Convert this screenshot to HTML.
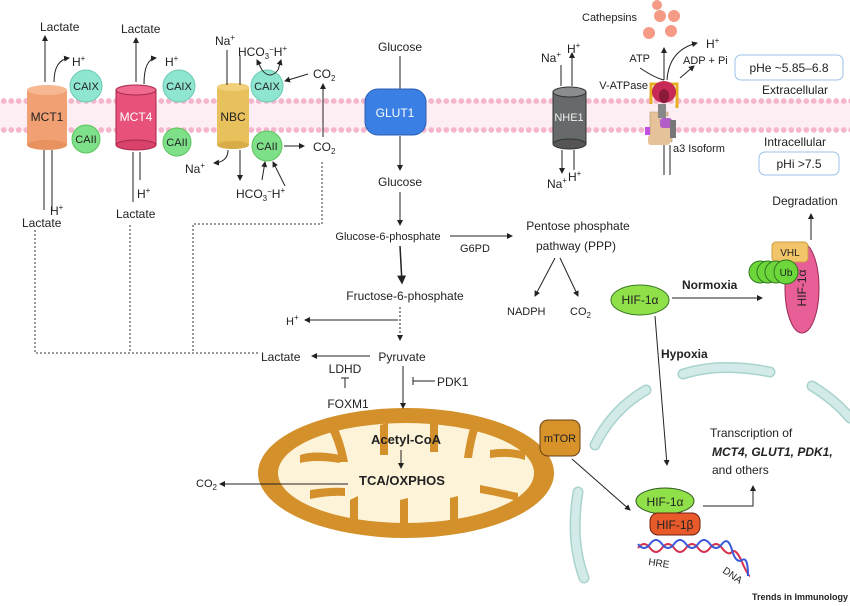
<!DOCTYPE html>
<html><head><meta charset="utf-8"><style>
html,body{margin:0;padding:0;background:#fff}
svg{display:block}
text{font-family:"Liberation Sans",sans-serif;fill:#222}
</style></head><body>
<svg width="850" height="606" viewBox="0 0 850 606" xmlns="http://www.w3.org/2000/svg">
<defs>
<pattern id="dots" x="0" y="0" width="7.5" height="29" patternUnits="userSpaceOnUse" patternTransform="translate(0,98)">
<circle cx="3.75" cy="3" r="2.9" fill="#f5b6cd"/>
</pattern>
<marker id="a" markerWidth="6" markerHeight="6" refX="5" refY="3" orient="auto"><path d="M0,0 L6,3 L0,6 z" fill="#222"/></marker>
</defs>

<!-- membrane -->
<rect x="0" y="101" width="850" height="29" fill="#fdeef3"/>
<rect x="0" y="98" width="850" height="6" fill="url(#dots)"/>
<rect x="0" y="127" width="850" height="6" fill="url(#dots)"/>

<!-- nucleus arcs -->
<g fill="none" stroke="#a9d3cd" stroke-width="11" stroke-linecap="round">
<path d="M683,374 Q720,362 770,372"/>
<path d="M812,386 Q835,400 850,418"/>
<path d="M646,390 Q612,410 595,445"/>
<path d="M578,492 Q570,540 584,578"/>
</g>
<g fill="none" stroke="#d3ebe8" stroke-width="8" stroke-linecap="round">
<path d="M683,374 Q720,362 770,372"/>
<path d="M812,386 Q835,400 850,418"/>
<path d="M646,390 Q612,410 595,445"/>
<path d="M578,492 Q570,540 584,578"/>
</g>

<!-- mitochondrion -->
<ellipse cx="406" cy="473" rx="148" ry="65" fill="#d4902a"/>
<ellipse cx="406" cy="473" rx="128" ry="50" fill="#fdf3d8"/>
<g fill="#d4902a">
<path d="M300,455 q15,-5 40,0 v8 q-25,-4 -40,0z"/>
<path d="M330,432 q5,10 10,30 h8 q-4,-20 -10,-33z"/>
<path d="M380,425 v30 h8 v-32z"/>
<path d="M430,424 v28 h8 v-30z"/>
<path d="M470,428 q-4,15 -6,30 h8 q2,-15 6,-28z"/>
<path d="M490,450 q20,-3 35,2 v8 q-15,-5 -35,-2z"/>
<path d="M310,490 q20,-3 35,-2 v8 q-15,-1 -35,3z"/>
<path d="M350,500 v20 h8 v-24z"/>
<path d="M400,500 v24 h8 v-26z"/>
<path d="M450,498 v24 h8 v-26z"/>
<path d="M480,485 q15,3 38,8 v8 q-20,-5 -38,-8z"/>
</g>
<text x="406" y="444" font-size="13" font-weight="bold" text-anchor="middle">Acetyl-CoA</text>
<text x="402" y="485" font-size="13" font-weight="bold" text-anchor="middle">TCA/OXPHOS</text>
<line x1="401" y1="450" x2="401" y2="468" stroke="#222" marker-end="url(#a)"/>
<line x1="348" y1="484" x2="220" y2="484" stroke="#222" marker-end="url(#a)"/>
<text x="196" y="487" font-size="11">CO<tspan font-size="8" dy="3">2</tspan></text>

<!-- MCT1 -->
<rect x="27" y="90" width="40" height="55" fill="#f0a072"/>
<ellipse cx="47" cy="145" rx="20" ry="5" fill="#e8935f"/>
<ellipse cx="47" cy="90" rx="20" ry="5" fill="#f7b891"/>
<text x="47" y="121" font-size="12" text-anchor="middle">MCT1</text>
<!-- MCT4 -->
<rect x="116" y="90" width="40" height="55" fill="#e8517a" stroke="#a82848"/>
<ellipse cx="136" cy="145" rx="20" ry="5" fill="#d9426b" stroke="#a82848"/>
<ellipse cx="136" cy="90" rx="20" ry="5" fill="#f06a90" stroke="#a82848"/>
<text x="136" y="121" font-size="12" text-anchor="middle" style="fill:#fff">MCT4</text>
<!-- NBC -->
<rect x="217" y="87" width="32" height="58" fill="#e8c05c"/>
<ellipse cx="233" cy="145" rx="16" ry="4" fill="#d8ad48"/>
<ellipse cx="233" cy="87" rx="16" ry="4" fill="#f2d07a"/>
<text x="233" y="121" font-size="12" text-anchor="middle">NBC</text>

<!-- CA circles -->
<g stroke="#6cc9b3">
<circle cx="86" cy="86" r="16" fill="#8ee6d1"/>
<circle cx="179" cy="86" r="16" fill="#8ee6d1"/>
<circle cx="267" cy="86" r="16" fill="#8ee6d1"/>
</g>
<g stroke="#5cc25c">
<circle cx="86" cy="139" r="14" fill="#7fe08a"/>
<circle cx="177" cy="142" r="14" fill="#7fe08a"/>
<circle cx="267" cy="146" r="15" fill="#7fe08a"/>
</g>
<g font-size="11" text-anchor="middle">
<text x="86" y="90">CAIX</text><text x="179" y="90">CAIX</text><text x="267" y="90">CAIX</text>
<text x="86" y="143">CAII</text><text x="177" y="146">CAII</text><text x="267" y="150">CAII</text>
</g>

<!-- transporter lines -->
<g stroke="#222" fill="none" stroke-width="1">
<line x1="45" y1="82" x2="45" y2="36" marker-end="url(#a)"/>
<path d="M54,82 q0,-22 15,-24" marker-end="url(#a)"/>
<line x1="44" y1="150" x2="44" y2="210"/>
<line x1="52" y1="150" x2="52" y2="210"/>
<line x1="136" y1="82" x2="136" y2="38" marker-end="url(#a)"/>
<path d="M144,84 q0,-25 12,-26" marker-end="url(#a)"/>
<line x1="133" y1="152" x2="133" y2="202"/>
<line x1="140" y1="152" x2="140" y2="180"/>
<line x1="227" y1="85" x2="227" y2="50"/>
<line x1="240" y1="85" x2="240" y2="55"/>
<path d="M228,150 q0,12 -14,13" marker-end="url(#a)"/>
<line x1="240" y1="150" x2="240" y2="180" marker-end="url(#a)"/>
<path d="M262,70 q8,10 16,0" />
<line x1="262" y1="70" x2="257" y2="60" marker-end="url(#a)"/>
<line x1="278" y1="70" x2="281" y2="60" marker-end="url(#a)"/>
<line x1="308" y1="74" x2="285" y2="81" marker-end="url(#a)"/>
<line x1="284" y1="146" x2="304" y2="146" marker-end="url(#a)"/>
<line x1="323" y1="137" x2="323" y2="84" marker-end="url(#a)"/>
<line x1="262" y1="180" x2="265" y2="162" marker-end="url(#a)"/>
<line x1="285" y1="186" x2="273" y2="162" marker-end="url(#a)"/>
</g>
<g font-size="12">
<text x="40" y="31">Lactate</text>
<text x="121" y="33">Lactate</text>
<text x="72" y="66">H<tspan font-size="8" dy="-5">+</tspan></text>
<text x="165" y="66">H<tspan font-size="8" dy="-5">+</tspan></text>
<text x="215" y="45">Na<tspan font-size="8" dy="-5">+</tspan></text>
<text x="238" y="56">HCO<tspan font-size="8" dy="3">3</tspan><tspan font-size="8" dy="-7">−</tspan><tspan dy="4">H</tspan><tspan font-size="8" dy="-5">+</tspan></text>
<text x="313" y="78">CO<tspan font-size="8" dy="3">2</tspan></text>
<text x="313" y="151">CO<tspan font-size="8" dy="3">2</tspan></text>
<text x="185" y="173">Na<tspan font-size="8" dy="-5">+</tspan></text>
<text x="236" y="198">HCO<tspan font-size="8" dy="3">3</tspan><tspan font-size="8" dy="-7">−</tspan><tspan dy="4">H</tspan><tspan font-size="8" dy="-5">+</tspan></text>
<text x="137" y="198">H<tspan font-size="8" dy="-5">+</tspan></text>
<text x="116" y="218">Lactate</text>
<text x="50" y="215">H<tspan font-size="8" dy="-5">+</tspan></text>
<text x="22" y="227">Lactate</text>
</g>

<!-- dotted lines -->
<g stroke="#333" stroke-dasharray="2,2" fill="none">
<path d="M35,230 V353 H258"/>
<path d="M130,225 V353"/>
<path d="M322,162 V224 H193 V353"/>
</g>

<!-- GLUT1 -->
<text x="400" y="51" font-size="12" text-anchor="middle">Glucose</text>
<line x1="400" y1="56" x2="400" y2="92" stroke="#222"/>
<rect x="365" y="89" width="61" height="46" rx="13" fill="#3a7fe3" stroke="#2a5fb0"/>
<text x="395" y="117" font-size="12" text-anchor="middle" style="fill:#fff">GLUT1</text>
<line x1="400" y1="136" x2="400" y2="170" stroke="#222" marker-end="url(#a)"/>
<text x="400" y="186" font-size="12" text-anchor="middle">Glucose</text>
<line x1="400" y1="192" x2="400" y2="225" stroke="#222" marker-end="url(#a)"/>
<text x="388" y="240" font-size="11" text-anchor="middle">Glucose-6-phosphate</text>
<line x1="450" y1="236" x2="512" y2="236" stroke="#222" marker-end="url(#a)"/>
<text x="460" y="252" font-size="11">G6PD</text>
<text x="578" y="230" font-size="12" text-anchor="middle">Pentose phosphate</text>
<text x="576" y="250" font-size="12" text-anchor="middle">pathway (PPP)</text>
<line x1="555" y1="258" x2="535" y2="296" stroke="#222" marker-end="url(#a)"/>
<line x1="560" y1="258" x2="578" y2="296" stroke="#222" marker-end="url(#a)"/>
<text x="507" y="315" font-size="11">NADPH</text>
<text x="570" y="315" font-size="11">CO<tspan font-size="8" dy="3">2</tspan></text>
<line x1="400" y1="246" x2="402" y2="283" stroke="#222" stroke-width="1.5" marker-end="url(#a)"/>
<text x="405" y="300" font-size="12" text-anchor="middle">Fructose-6-phosphate</text>
<line x1="400" y1="307" x2="400" y2="340" stroke="#222" stroke-dasharray="2,2" marker-end="url(#a)"/>
<line x1="398" y1="320" x2="305" y2="320" stroke="#222" marker-end="url(#a)"/>
<text x="286" y="325" font-size="11">H<tspan font-size="8" dy="-5">+</tspan></text>
<text x="402" y="361" font-size="12" text-anchor="middle">Pyruvate</text>
<line x1="370" y1="356" x2="312" y2="356" stroke="#222" marker-end="url(#a)"/>
<text x="261" y="361" font-size="12">Lactate</text>
<text x="345" y="373" font-size="12" text-anchor="middle">LDHD</text>
<path d="M345,378 v10 M341,378 h8" stroke="#222"/>
<text x="348" y="408" font-size="12" text-anchor="middle">FOXM1</text>
<line x1="403" y1="366" x2="403" y2="408" stroke="#222" marker-end="url(#a)"/>
<path d="M413,381 h22 M413,377 v8" stroke="#222"/>
<text x="437" y="386" font-size="12">PDK1</text>

<!-- NHE1 -->
<rect x="553" y="92" width="33" height="52" fill="#666a6a" stroke="#333"/>
<ellipse cx="569.5" cy="144" rx="16.5" ry="5" fill="#555" stroke="#333"/>
<ellipse cx="569.5" cy="92" rx="16.5" ry="5" fill="#8a8e8e" stroke="#333"/>
<text x="569" y="121" font-size="11" text-anchor="middle" style="fill:#eee">NHE1</text>
<g stroke="#222" fill="none">
<line x1="561" y1="86" x2="561" y2="65"/>
<line x1="572" y1="86" x2="572" y2="53" marker-end="url(#a)"/>
<line x1="562" y1="150" x2="562" y2="173" marker-end="url(#a)"/>
<line x1="574" y1="150" x2="574" y2="170"/>
</g>
<g font-size="12">
<text x="541" y="62">Na<tspan font-size="8" dy="-5">+</tspan></text>
<text x="567" y="53">H<tspan font-size="8" dy="-5">+</tspan></text>
<text x="547" y="188">Na<tspan font-size="8" dy="-5">+</tspan></text>
<text x="568" y="181">H<tspan font-size="8" dy="-5">+</tspan></text>
</g>

<!-- V-ATPase -->
<text x="582" y="21" font-size="11">Cathepsins</text>
<g fill="#f59a85">
<circle cx="657" cy="5" r="5"/><circle cx="660" cy="16" r="6"/><circle cx="674" cy="16" r="6"/>
<circle cx="649" cy="33" r="6"/><circle cx="671" cy="31" r="6"/>
</g>
<g stroke="#222" fill="none">
<line x1="664" y1="80" x2="664" y2="48" marker-end="url(#a)"/>
<line x1="664" y1="145" x2="664" y2="175"/><line x1="670" y1="145" x2="670" y2="175"/>
<path d="M640,68 q15,10 24,12"/>
<path d="M667,80 q2,-30 30,-37" marker-end="url(#a)"/>
<path d="M680,78 l14,-12" marker-end="url(#a)"/>
</g>
<path d="M650,112 h18 v4 h-8 v6 h12 v20 h-22 z" fill="#e6c29a" stroke="#b8946a" stroke-width="0.6"/>
<rect x="648" y="135" width="22" height="10" rx="3" fill="#e6c29a"/>
<rect x="658" y="104" width="8" height="14" fill="#888"/>
<rect x="660" y="118" width="12" height="10" rx="3" fill="#b45cc8"/>
<rect x="670" y="120" width="6" height="18" fill="#777"/>
<rect x="645" y="127" width="5" height="8" fill="#c050e0"/>
<path d="M651,104 v-20 h26 v24" stroke="#e6b020" stroke-width="3" fill="none"/>
<ellipse cx="664" cy="92" rx="12" ry="11" fill="#c72a55"/>
<ellipse cx="664" cy="96" rx="5" ry="7" fill="#8a1a3a"/>
<text x="650" y="62" font-size="11" text-anchor="end">ATP</text>
<text x="683" y="64" font-size="11">ADP + Pi</text>
<text x="706" y="48" font-size="12">H<tspan font-size="8" dy="-5">+</tspan></text>
<text x="648" y="89" font-size="11" text-anchor="end">V-ATPase</text>
<text x="673" y="152" font-size="11">a3 Isoform</text>
<rect x="735" y="55" width="108" height="25" rx="6" fill="#fff" stroke="#9ec0e8"/>
<text x="789" y="72" font-size="12" text-anchor="middle">pHe ~5.85–6.8</text>
<text x="795" y="94" font-size="12" text-anchor="middle">Extracellular</text>
<text x="795" y="146" font-size="12" text-anchor="middle">Intracellular</text>
<rect x="759" y="152" width="80" height="23" rx="6" fill="#fff" stroke="#9ec0e8"/>
<text x="799" y="168" font-size="12" text-anchor="middle">pHi &gt;7.5</text>

<!-- HIF degradation -->
<text x="805" y="205" font-size="12" text-anchor="middle">Degradation</text>
<line x1="811" y1="240" x2="811" y2="214" stroke="#222" marker-end="url(#a)"/>
<ellipse cx="802" cy="288" rx="17" ry="45" fill="#e85e96" stroke="#9a2a55"/>
<text transform="translate(806,288) rotate(-90)" font-size="12" text-anchor="middle">HIF-1α</text>
<rect x="772" y="242" width="36" height="20" rx="4" fill="#f2c56a" stroke="#c9a040"/>
<text x="790" y="256" font-size="10" text-anchor="middle">VHL</text>
<g fill="#6cd63a" stroke="#2f7a20">
<circle cx="760" cy="272" r="11"/><circle cx="768" cy="272" r="11"/><circle cx="776" cy="272" r="11"/><circle cx="786" cy="272" r="12"/>
</g>
<text x="786" y="276" font-size="10" text-anchor="middle">Ub</text>
<ellipse cx="640" cy="300" rx="29" ry="15" fill="#90e04a" stroke="#3a7a20"/>
<text x="640" y="304" font-size="12" text-anchor="middle">HIF-1α</text>
<text x="682" y="289" font-size="12" font-weight="bold">Normoxia</text>
<line x1="672" y1="298" x2="762" y2="298" stroke="#222" marker-end="url(#a)"/>
<line x1="655" y1="316" x2="667" y2="465" stroke="#222" marker-end="url(#a)"/>
<text x="661" y="358" font-size="12" font-weight="bold">Hypoxia</text>

<!-- mTOR / nucleus -->
<rect x="540" y="420" width="40" height="36" rx="8" fill="#d8922a" stroke="#6a4010"/>
<text x="560" y="442" font-size="11" text-anchor="middle">mTOR</text>
<line x1="572" y1="459" x2="630" y2="510" stroke="#222" marker-end="url(#a)"/>
<text x="710" y="437" font-size="12">Transcription of</text>
<text x="712" y="456" font-size="12" font-weight="bold" font-style="italic">MCT4, GLUT1, PDK1,</text>
<text x="712" y="474" font-size="12">and others</text>
<path d="M703,506 H753 V486" stroke="#222" fill="none" marker-end="url(#a)"/>
<path d="M638,548 q6,-8 12,0 t12,0 t12,0 t12,0 t12,0 t12,0 t12,0 t10,4 t10,10 t8,14" stroke="#d8304a" stroke-width="2" fill="none"/>
<path d="M638,544 q6,8 12,0 t12,0 t12,0 t12,0 t12,0 t12,0 t12,0 t10,6 t10,10 t6,16" stroke="#3a5ad8" stroke-width="2" fill="none"/>
<ellipse cx="665" cy="501" rx="29" ry="13" fill="#90e04a" stroke="#2f5a20"/>
<text x="665" y="506" font-size="12" text-anchor="middle">HIF-1α</text>
<rect x="650" y="513" width="50" height="22" rx="8" fill="#e85a2a" stroke="#6a2010"/>
<text x="675" y="529" font-size="12" text-anchor="middle">HIF-1β</text>
<text transform="translate(648,565) rotate(8)" font-size="10">HRE</text>
<text transform="translate(722,572) rotate(35)" font-size="10">DNA</text>
<text x="848" y="600" font-size="9" font-weight="bold" text-anchor="end">Trends in Immunology</text>
</svg>
</body></html>
